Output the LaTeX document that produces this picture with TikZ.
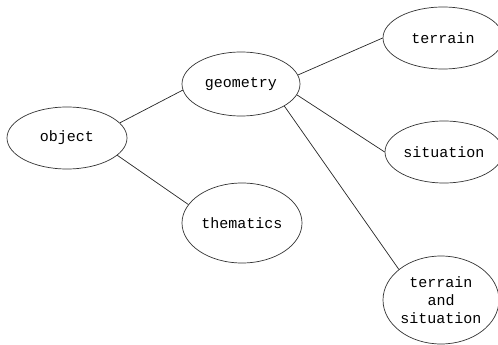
\documentclass[tikz,border=0pt]{standalone}
\usepackage{fontspec}
\setmonofont{Liberation Mono}
\usetikzlibrary{shapes.geometric}
\begin{document}
\begin{tikzpicture}[x=1pt,y=-1pt,
  el/.style={ellipse,draw=black!80,line width=0.7pt,inner sep=0pt,
    font=\ttfamily\fontsize{15}{18}\selectfont,align=center},
  conn/.style={draw=black!85,line width=0.7pt}]
\useasboundingbox (0,0) rectangle (498,345);
\clip (0,0) rectangle (498,345);
\node[el,minimum width=120pt,minimum height=62pt] (obj) at (67,138) {object};
\node[el,minimum width=118pt,minimum height=64pt] (geo) at (241,84) {geometry};
\node[el,minimum width=120pt,minimum height=80pt] (them) at (242,223) {thematics};
\node[el,minimum width=120pt,minimum height=62pt] (ter) at (443,38) {terrain};
\node[el,minimum width=118pt,minimum height=62pt] (sit) at (444,152) {situation};
\node[el,minimum width=116pt,minimum height=88pt] (ts) at (441,300) {terrain\\and\\situation};
\draw[conn] (obj.16) -- (geo.186);
\draw[conn] (obj.-19) -- (them.161);
\draw[conn] (geo.9) -- (ter.180);
\draw[conn] (geo.-11) -- (sit.180);
\draw[conn] (geo.-27) -- (ts.144);
\end{tikzpicture}
\end{document}
